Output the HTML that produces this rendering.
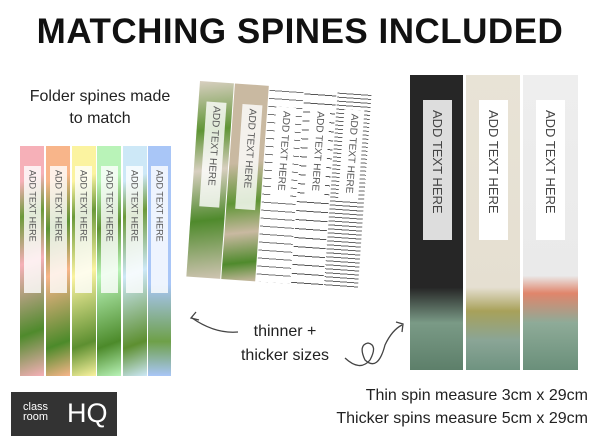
<!DOCTYPE html>
<html><head><style>
body{margin:0;width:600px;height:436px;background:#fff;position:relative;overflow:hidden;font-family:"Liberation Sans",sans-serif;}
.a{position:absolute}
.vt{writing-mode:vertical-rl;font-size:9px;color:#555;display:flex;align-items:center;justify-content:flex-start;padding-top:4px;box-sizing:border-box}
</style></head><body>
<div class="a" style="left:0;top:12px;width:600px;text-align:center;font-size:35px;font-weight:bold;color:#111;letter-spacing:0.5px">MATCHING SPINES INCLUDED</div>
<div class="a" style="left:0;top:86px;width:200px;text-align:center;font-size:16px;line-height:22px;color:#222">Folder spines made<br>to match</div>

<!-- left spines -->
<div class="a" style="left:20px;top:146px;width:152px;height:230px;background:#fff"></div>
<div class="a" style="left:20px;top:146px;width:24px;height:230px;background:linear-gradient(160deg,#f6b0b8 0%,#f6b0b8 15%,#6c9a3a 30%,#f6b0b8 50%,#4f8a2c 80%,#f6b0b8 100%)"></div>
<div class="a" style="left:46px;top:146px;width:24px;height:230px;background:linear-gradient(160deg,#f8b58a 0%,#f8b58a 15%,#5e9334 35%,#f8b58a 55%,#4c8a2a 85%,#f8b58a 100%)"></div>
<div class="a" style="left:72px;top:146px;width:24px;height:230px;background:linear-gradient(160deg,#fbf3a0 0%,#fbf3a0 15%,#6c9a3a 30%,#fbf3a0 55%,#5d8f30 85%,#fbf3a0 100%)"></div>
<div class="a" style="left:97px;top:146px;width:24px;height:230px;background:linear-gradient(160deg,#b9f3b8 0%,#b9f3b8 15%,#5e9334 35%,#b9f3b8 55%,#4c8a2a 85%,#b9f3b8 100%)"></div>
<div class="a" style="left:123px;top:146px;width:24px;height:230px;background:linear-gradient(160deg,#cde8f7 0%,#cde8f7 15%,#6c9a3a 30%,#cde8f7 55%,#5d8f30 85%,#cde8f7 100%)"></div>
<div class="a" style="left:148px;top:146px;width:23px;height:230px;background:linear-gradient(180deg,#a9c6f7 0%,#a9c6f7 60%,#6ea048 85%,#a9c6f7 100%)"></div>
<div class="a vt" style="left:24px;top:166px;width:17px;height:127px;background:rgba(255,255,255,.8)">ADD TEXT HERE</div>
<div class="a vt" style="left:50px;top:166px;width:17px;height:127px;background:rgba(255,255,255,.8)">ADD TEXT HERE</div>
<div class="a vt" style="left:75px;top:166px;width:17px;height:127px;background:rgba(255,255,255,.8)">ADD TEXT HERE</div>
<div class="a vt" style="left:101px;top:166px;width:17px;height:127px;background:rgba(255,255,255,.8)">ADD TEXT HERE</div>
<div class="a vt" style="left:126px;top:166px;width:17px;height:127px;background:rgba(255,255,255,.8)">ADD TEXT HERE</div>
<div class="a vt" style="left:151px;top:166px;width:17px;height:127px;background:rgba(255,255,255,.8)">ADD TEXT HERE</div>

<!-- middle rotated group -->
<div class="a" style="left:200px;top:81px;width:172px;height:200px;transform:rotate(4deg);transform-origin:0 0">
 <div class="a" style="left:0;top:0;width:34px;height:196px;background:linear-gradient(170deg,#d8cfc0 0%,#5f9535 25%,#d8cfc0 45%,#4f8a2c 70%,#cfc4b2 100%)"></div>
 <div class="a" style="left:35px;top:0;width:34px;height:196px;background:linear-gradient(170deg,#c9b9a1 0%,#c9b9a1 40%,#5f9535 60%,#c9b9a1 75%,#4f8a2c 90%,#c9b9a1 100%)"></div>
 <div class="a" style="left:70px;top:0;width:34px;height:196px;background:repeating-linear-gradient(180deg,#fff 0 4px,#777 4px 5px,#fff 5px 8px)"></div>
 <div class="a" style="left:105px;top:0;width:32px;height:196px;background:repeating-linear-gradient(180deg,#fff 0 5px,#555 5px 6px,#fff 6px 9px)"></div>
 <div class="a" style="left:138px;top:0;width:34px;height:196px;background:repeating-linear-gradient(180deg,#fff 0 2px,#666 2px 3px,#fff 3px 4px)"></div>
 <div class="a vt" style="left:8px;top:20px;width:20px;height:105px;background:rgba(255,255,255,.8);font-size:10px">ADD TEXT HERE</div>
 <div class="a vt" style="left:44px;top:20px;width:20px;height:105px;background:rgba(255,255,255,.8);font-size:10px">ADD TEXT HERE</div>
 <div class="a vt" style="left:78px;top:20px;width:20px;height:90px;background:#fff;font-size:10px">ADD TEXT HERE</div>
 <div class="a vt" style="left:112px;top:18px;width:20px;height:90px;background:#fff;font-size:10px">ADD TEXT HERE</div>
 <div class="a vt" style="left:146px;top:18px;width:20px;height:90px;background:#fff;font-size:10px">ADD TEXT HERE</div>
</div>

<!-- right spines -->
<div class="a" style="left:410px;top:75px;width:53px;height:295px;background:linear-gradient(180deg,#262626 0%,#262626 72%,#7a9a86 84%,#5d7f6a 100%)"></div>
<div class="a" style="left:466px;top:75px;width:54px;height:295px;background:linear-gradient(180deg,#e8e3d6 0%,#e5dfd1 72%,#a8a15a 80%,#8aa596 90%,#6f9380 100%)"></div>
<div class="a" style="left:523px;top:75px;width:55px;height:295px;background:linear-gradient(180deg,#eeeeee 0%,#eaeaea 68%,#e0856b 74%,#8eab98 84%,#6a8f7a 100%)"></div>
<div class="a vt" style="left:423px;top:100px;width:29px;height:140px;background:#ddd;font-size:13px;color:#444;padding-top:10px">ADD TEXT HERE</div>
<div class="a vt" style="left:479px;top:100px;width:29px;height:140px;background:#fff;font-size:13px;color:#444;padding-top:10px">ADD TEXT HERE</div>
<div class="a vt" style="left:536px;top:100px;width:29px;height:140px;background:#fff;font-size:13px;color:#444;padding-top:10px">ADD TEXT HERE</div>

<div class="a" style="left:230px;top:320px;width:110px;text-align:center;font-size:16px;line-height:24px;color:#222">thinner +<br>thicker sizes</div>
<svg class="a" style="left:0;top:0" width="600" height="436">
 <path d="M238 332 Q215 334 192 318" fill="none" stroke="#444" stroke-width="1.3"/>
 <path d="M196 312 L191 318 L199 320" fill="none" stroke="#444" stroke-width="1.3"/>
 <path d="M345 358 Q360 372 370 360 Q378 345 368 343 Q358 345 365 360 Q378 372 385 345 Q392 330 402 325" fill="none" stroke="#444" stroke-width="1.3"/>
 <path d="M396 322 L403 324 L402 332" fill="none" stroke="#444" stroke-width="1.3"/>
</svg>

<div class="a" style="left:11px;top:392px;width:106px;height:44px;background:#333;color:#fff">
 <div class="a" style="left:12px;top:10px;font-size:11px;line-height:10px">class<br>room</div>
 <div class="a" style="left:56px;top:6px;font-size:27px;font-weight:normal">HQ</div>
</div>
<div class="a" style="right:12px;top:384px;text-align:right;font-size:16px;line-height:23px;color:#222">Thin spin measure 3cm x 29cm<br>Thicker spins measure 5cm x 29cm</div>
</body></html>
